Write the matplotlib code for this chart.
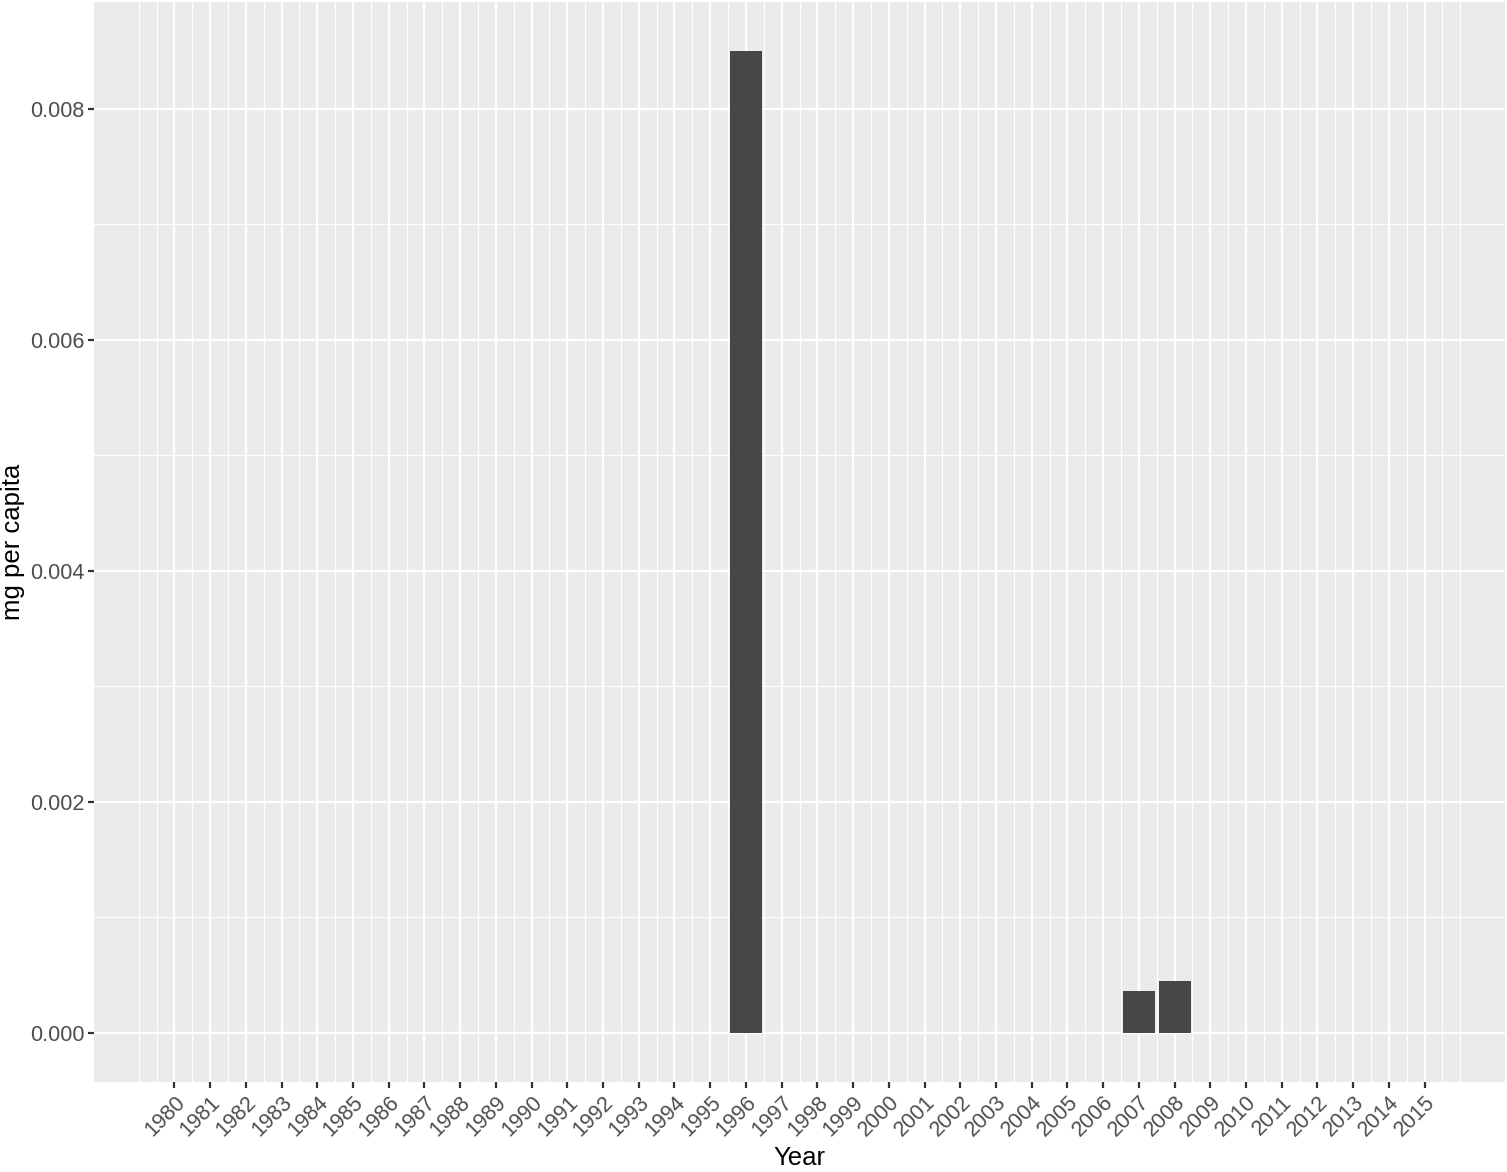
import matplotlib
matplotlib.use("Agg")
import matplotlib.pyplot as plt
from matplotlib.ticker import FixedLocator

plt.rcParams['font.family'] = ['Liberation Sans', 'DejaVu Sans']

# data
years = list(range(1980, 2016))
values = [0.0] * len(years)
values[years.index(1996)] = 0.0085
values[years.index(2007)] = 0.00036
values[years.index(2008)] = 0.00045

y_ticks = [0, 0.002, 0.004, 0.006, 0.008]
y_labels = ['0.000', '0.002', '0.004', '0.006', '0.008']

fig = plt.figure(figsize=(15.07, 11.72), dpi=100)
ax = fig.add_axes([94 / 1507, 1 - 1082 / 1172, (1505 - 94) / 1507, (1082 - 2) / 1172])

ax.set_facecolor('#EBEBEB')
ax.bar(years, values, width=0.9, color='#474747', zorder=3)

ax.set_xlim(1977.75, 2017.25)
ax.set_ylim(-0.000425, 0.008925)

ax.set_xticks(years)
ax.set_xticklabels([str(y) for y in years], rotation=45, ha='right', va='top',
                   rotation_mode='anchor')
# ggplot style minor breaks: one step beyond the majors plus midpoints
minor_x = [years[0] - 1, years[0] - 0.5] + [y + 0.5 for y in years] + [years[-1] + 1]
ax.xaxis.set_minor_locator(FixedLocator(minor_x))
ax.set_yticks(y_ticks)
ax.set_yticklabels(y_labels)
ax.yaxis.set_minor_locator(FixedLocator([0.001, 0.003, 0.005, 0.007]))

ax.grid(which='major', color='white', linewidth=1.6, zorder=0)
ax.grid(which='minor', color='white', linewidth=0.8, zorder=0)
ax.set_axisbelow(True)

for s in ax.spines.values():
    s.set_visible(False)

ax.tick_params(which='major', length=4, width=1.6, color='#333333',
               labelsize=15.5, labelcolor='#4D4D4D', pad=3)
ax.tick_params(which='minor', length=0)

ax.set_xlabel('Year', fontsize=18.5, color='black', labelpad=4)
fig.text(13 / 1507, 1 - 542 / 1172, 'mg per capita', fontsize=18.5, color='black',
         rotation=90, ha='center', va='center')

fig.savefig('out.png', dpi=100)
